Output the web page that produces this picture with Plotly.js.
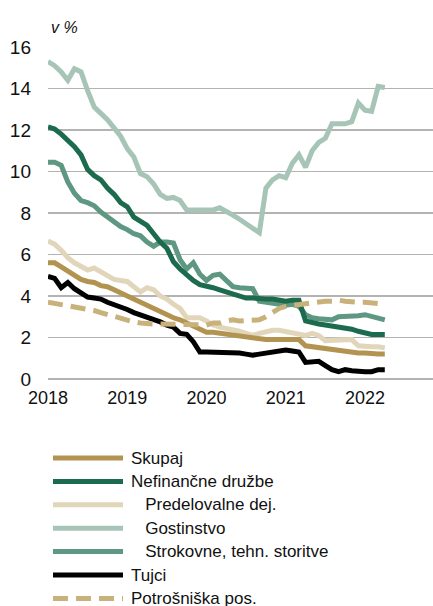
<!DOCTYPE html>
<html>
<head>
<meta charset="utf-8">
<script src="https://cdn.plot.ly/plotly-3.0.1.min.js"></script>
<style>
  html, body { margin: 0; padding: 0; background: #fff; }
  #chart { width: 433px; height: 606px; }
</style>
</head>
<body>
<div id="chart"></div>
<script>
// mesečni podatki, jan 2018 - apr 2022 (v %)
const startYear = 2018;
const yearTicks = ['2018', '2019', '2020', '2021', '2022'];

const skupaj = [5.6, 5.6, 5.4, 5.2, 5.0, 4.8, 4.7, 4.65, 4.5, 4.45, 4.3, 4.15,
  4.0, 3.85, 3.7, 3.5, 3.35, 3.2, 3.05, 2.95, 2.85, 2.7, 2.55, 2.35,
  2.25, 2.25, 2.2, 2.15, 2.1, 2.05, 2.0, 1.95, 1.9, 1.9, 1.9, 1.9,
  1.9, 1.9, 1.9, 1.6, 1.55, 1.55, 1.5, 1.45, 1.4, 1.35, 1.3, 1.25,
  1.25, 1.2, 1.2, 1.2];

const nefinancne = [12.15, 12.05, 11.8, 11.5, 11.2, 10.8, 10.1, 9.8, 9.6, 9.2, 8.9, 8.5,
  8.3, 7.8, 7.6, 7.4, 7.0, 6.6, 6.3, 5.65, 5.3, 5.0, 4.75, 4.55,
  4.5, 4.4, 4.3, 4.2, 4.1, 4.0, 3.9, 3.9, 3.85, 3.85, 3.85, 3.8,
  3.75, 3.8, 3.8, 2.8, 2.7, 2.65, 2.6, 2.55, 2.55, 2.5, 2.4, 2.3,
  2.2, 2.15, 2.15, 2.15];

const predelovalne = [6.65, 6.5, 6.2, 5.85, 5.6, 5.4, 5.25, 5.35, 5.15, 5.0, 4.8, 4.75,
  4.7, 4.45, 4.2, 4.4, 4.3, 4.0, 3.85, 3.6, 3.4, 2.95, 2.95, 2.95,
  2.8, 2.6, 2.5, 2.45, 2.35, 2.3, 2.2, 2.1, 2.2, 2.3, 2.35, 2.35,
  2.3, 2.25, 2.2, 2.1, 2.2, 2.1, 1.85, 1.85, 1.9, 1.9, 1.9, 1.6,
  1.55, 1.55, 1.55, 1.5];

const gostinstvo = [15.3, 15.1, 14.8, 14.4, 14.95, 14.8, 13.9, 13.1, 12.8, 12.5, 12.1, 11.7,
  11.1, 10.7, 9.9, 9.75, 9.4, 8.9, 8.7, 8.75, 8.6, 8.15, 8.15, 8.15,
  8.15, 8.15, 8.25, 8.1, 7.9, 7.7, 7.5, 7.3, 7.05, 9.2, 9.6, 9.8,
  9.7, 10.4, 10.8, 10.2, 11.0, 11.4, 11.6, 12.3, 12.3, 12.3, 12.4, 13.3,
  12.95, 12.9, 14.1, 14.05];

const strokovne = [10.45, 10.45, 10.3, 9.5, 8.95, 8.6, 8.5, 8.35, 8.05, 7.8, 7.55, 7.35,
  7.2, 7.0, 6.9, 6.6, 6.4, 6.6, 6.6, 6.55, 5.75, 5.3, 5.6, 5.05,
  4.75, 5.0, 5.05, 4.75, 4.45, 4.4, 4.4, 4.35, 3.75, 3.7, 3.7, 3.6,
  3.55, 3.6, 3.5, 3.1, 2.95, 2.9, 2.85, 2.85, 3.0, 3.0, 3.0, 3.05,
  3.1, 3.0, 2.95, 2.85];

const tujci = [4.95, 4.85, 4.4, 4.65, 4.35, 4.15, 3.95, 3.9, 3.85, 3.7, 3.6, 3.45,
  3.35, 3.2, 3.1, 2.95, 2.9, 2.75, 2.6, 2.5, 2.2, 2.15, 1.8, 1.3,
  1.3, 1.3, 1.3, 1.3, 1.25, 1.25, 1.2, 1.15, 1.2, 1.25, 1.25, 1.35,
  1.4, 1.35, 1.3, 0.8, 0.85, 0.85, 0.65, 0.45, 0.35, 0.45, 0.4, 0.35,
  0.35, 0.35, 0.45, 0.45];

const potrosniska = [3.7, 3.65, 3.6, 3.5, 3.45, 3.4, 3.35, 3.3, 3.2, 3.1, 3.0, 2.9,
  2.8, 2.75, 2.7, 2.65, 2.65, 2.65, 2.65, 2.65, 2.65, 2.65, 2.65, 2.6,
  2.6, 2.7, 2.7, 2.8, 2.85, 2.8, 2.8, 2.8, 2.85, 3.0, 3.2, 3.4,
  3.5, 3.55, 3.6, 3.6, 3.65, 3.7, 3.75, 3.75, 3.8, 3.75, 3.7, 3.7,
  3.7, 3.65, 3.65, 3.6];

const seriesNames = ['Skupaj', 'Nefinančne družbe', '\u00a0\u00a0\u00a0Predelovalne dej.',
  '\u00a0\u00a0\u00a0Gostinstvo', '\u00a0\u00a0\u00a0Strokovne, tehn. storitve', 'Tujci', 'Potrošniška pos.'];
const seriesData = [skupaj, nefinancne, predelovalne, gostinstvo, strokovne, tujci, potrosniska];

// barve in stil črt
const colors = ['#b39350', '#1d6b4e', '#e1d6b9', '#a7c5b7', '#5e9782', '#000000', '#c9b17b'];
const dashes = ['solid', 'solid', 'solid', 'solid', 'solid', 'solid', '15px,8px'];

const months = skupaj.map((_, i) => i);

// vrstni red risanja: svetle zadaj, potrošniška na vrhu
const drawOrder = [3, 4, 1, 2, 0, 5, 6];
const traces = drawOrder.map(k => ({
    x: months,
    y: seriesData[k],
    type: 'scatter',
    mode: 'lines',
    name: seriesNames[k],
    line: { color: colors[k], width: 5, dash: dashes[k] },
    hoverinfo: 'skip',
    showlegend: false
}));

// legenda (ročno, da so vzorci črt dolgi kot v izvirniku)
const plotLeft = 48, plotRight = 433, plotTop = 47, plotBottom = 379;
const px = v => (v - plotLeft) / (plotRight - plotLeft);
const py = v => (plotBottom - v) / (plotBottom - plotTop);

const shapes = [];
const annotations = [];
seriesNames.forEach((name, k) => {
    const rowY = 458 + k * 23.4;
    shapes.push({
        type: 'line', xref: 'paper', yref: 'paper',
        x0: px(53), x1: px(123), y0: py(rowY), y1: py(rowY),
        line: { color: colors[k], width: 5, dash: dashes[k] }
    });
    annotations.push({
        xref: 'paper', yref: 'paper', x: px(129), y: py(rowY),
        xanchor: 'left', yanchor: 'middle', showarrow: false,
        text: name, font: { size: 17, color: '#111' }
    });
});

annotations.push({
    xref: 'paper', yref: 'paper', x: px(49), y: py(28),
    xanchor: 'left', yanchor: 'middle', showarrow: false,
    text: '<i>v %</i>', font: { size: 16, color: '#111' }
});

const layout = {
    width: 433,
    height: 606,
    margin: { l: plotLeft, r: 433 - plotRight, t: plotTop, b: 606 - plotBottom },
    paper_bgcolor: '#ffffff',
    plot_bgcolor: '#ffffff',
    font: { family: 'Liberation Sans, Arial, sans-serif', size: 18, color: '#111' },
    showlegend: false,
    xaxis: {
        range: [0, 58.3],
        tickvals: yearTicks.map((_, i) => i * 12),
        ticktext: yearTicks,
        showgrid: false,
        zeroline: false,
        showline: false,
        ticks: '',
        ticklabelstandoff: 6,
        tickfont: { size: 18 }
    },
    yaxis: {
        range: [0, 16],
        dtick: 2,
        showgrid: true,
        gridcolor: '#b3b3b3',
        gridwidth: 1.5,
        zeroline: true,
        zerolinecolor: '#b3b3b3',
        zerolinewidth: 1.5,
        showline: false,
        ticks: '',
        ticklabelstandoff: 16,
        tickfont: { size: 19 }
    },
    shapes: shapes,
    annotations: annotations
};

Plotly.newPlot('chart', traces, layout, { displayModeBar: false, staticPlot: true });
</script>
</body>
</html>
